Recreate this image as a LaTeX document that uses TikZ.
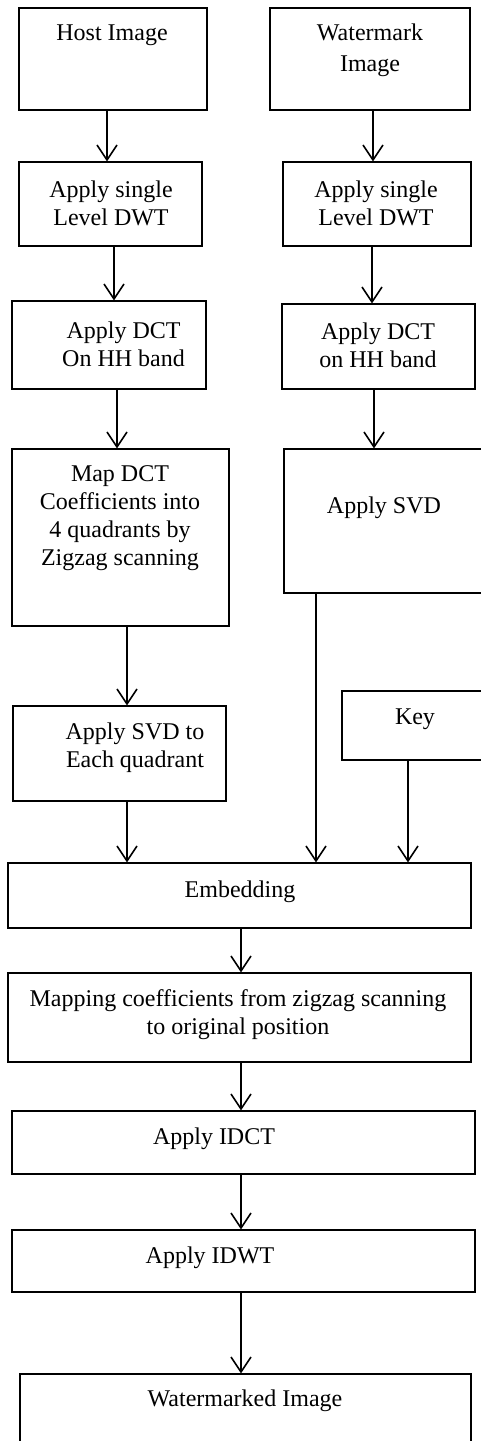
\documentclass[tikz,border=0pt]{standalone}
\usepackage{fontspec}
\setmainfont{Liberation Serif}
\usetikzlibrary{arrows.meta}

\begin{document}
\begin{tikzpicture}[x=0.5pt,y=-0.5pt,
  box/.style={draw, line width=0.6pt, inner sep=0pt},
  txt/.style={align=center, inner sep=0pt, yshift=-1pt, font=\fontsize{12}{14}\selectfont},
  arr/.style={line width=0.8pt, -{Straight Barb[length=7.5pt,width=10pt,line width=0.8pt]}}]
\useasboundingbox (0,0) rectangle (481,1441);
\clip (0,0) rectangle (481,1441);
% boxes
\node[box, minimum width=94pt,    minimum height=51pt]   (host) at (113,59) {};
\node[box, minimum width=100pt,   minimum height=51pt]   (wm)   at (370,59) {};
\node[box, minimum width=91.5pt,  minimum height=42pt]   (dwtL) at (110.5,204) {};
\node[box, minimum width=94pt,    minimum height=42pt]   (dwtR) at (377,204) {};
\node[box, minimum width=97pt,    minimum height=44pt]   (dctL) at (109,345) {};
\node[box, minimum width=96.5pt,  minimum height=42.5pt] (dctR) at (378.5,346.5) {};
\node[box, minimum width=108.5pt, minimum height=88.5pt] (map)  at (120.5,537.5) {};
\node[box, minimum width=118pt,   minimum height=72pt]   (svdR) at (402,521) {};
\node[box, minimum width=106.5pt, minimum height=47.5pt] (svdE) at (119.5,753.5) {};
\node[box, minimum width=89pt,    minimum height=34.5pt] (key)  at (431,725.5) {};
\node[box, minimum width=231.5pt, minimum height=32.5pt] (emb)  at (239.5,895.5) {};
\node[box, minimum width=231.5pt, minimum height=44.5pt] (mapc) at (239.5,1017.5) {};
\node[box, minimum width=231.5pt, minimum height=31.5pt] (idct) at (243.5,1142.5) {};
\node[box, minimum width=231.5pt, minimum height=31pt]   (idwt) at (243.5,1261) {};
\node[box, minimum width=225.5pt, minimum height=53pt]   (wmk)  at (245.5,1427) {};
% texts
\node[txt] (host-t) at (112,33)    {Host Image};
\node[txt] (wm-t)   at (370,48.5)  {Watermark\\[1.5pt]Image};
\node[txt] (dwtL-t) at (111,201.5) {Apply single\\Level DWT};
\node[txt] (dwtR-t) at (376,201.5) {Apply single\\Level DWT};
\node[txt] (dctL-t) at (123.5,342) {Apply DCT\\On HH band};
\node[txt] (dctR-t) at (378,343.5) {Apply DCT\\on HH band};
\node[txt] (map-t)  at (120,516)   {Map DCT\\Coefficients into\\4 quadrants by\\Zigzag scanning};
\node[txt] (svdR-t) at (384,506)   {Apply SVD};
\node[txt] (svdE-t) at (135,745.5) {Apply SVD to\\Each quadrant};
\node[txt] (key-t)  at (415,717)   {Key};
\node[txt] (emb-t)  at (240,890)   {Embedding};
\node[txt] (mapc-t) at (238,1013)  {Mapping coefficients from zigzag scanning\\to original position};
\node[txt] (idct-t) at (214,1137)  {Apply IDCT};
\node[txt] (idwt-t) at (210,1256)  {Apply IDWT};
\node[txt] (wmk-t)  at (245,1399)  {Watermarked Image};
% arrows
\draw[arr] (host.south -| 107,0) -- (dwtL.north -| 107,0);
\draw[arr] (wm.south -| 373,0)   -- (dwtR.north -| 373,0);
\draw[arr] (dwtL.south -| 114,0) -- (dctL.north -| 114,0);
\draw[arr] (dwtR.south -| 372,0) -- (dctR.north -| 372,0);
\draw[arr] (dctL.south -| 117,0) -- (map.north -| 117,0);
\draw[arr] (dctR.south -| 374,0) -- (svdR.north -| 374,0);
\draw[arr] (map.south -| 127,0)  -- (svdE.north -| 127,0);
\draw[arr] (svdE.south -| 127,0) -- (emb.north -| 127,0);
\draw[arr] (svdR.south -| 316,0) -- (emb.north -| 316,0);
\draw[arr] (key.south -| 408,0)  -- (emb.north -| 408,0);
\draw[arr] (emb.south -| 241,0)  -- (mapc.north -| 241,0);
\draw[arr] (mapc.south -| 241,0) -- (idct.north -| 241,0);
\draw[arr] (idct.south -| 241,0) -- (idwt.north -| 241,0);
\draw[arr] (idwt.south -| 241,0) -- (wmk.north -| 241,0);
\end{tikzpicture}
\end{document}
